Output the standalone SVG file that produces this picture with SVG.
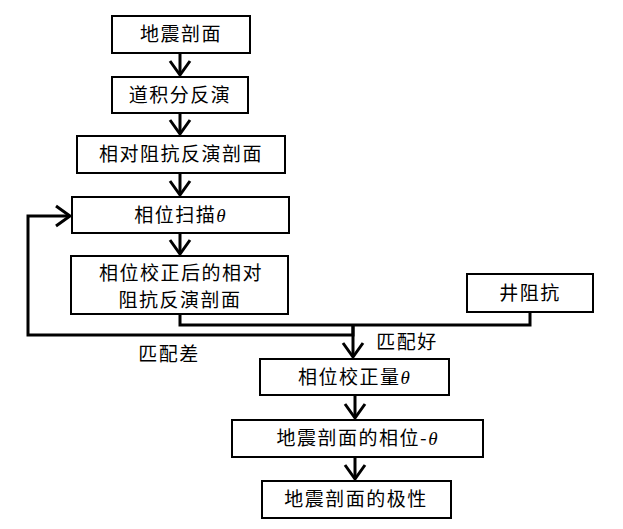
<svg xmlns="http://www.w3.org/2000/svg" width="623" height="529" viewBox="0 0 623 529">
<style>
.box{fill:#fff;stroke:#000;stroke-width:2}
.t{font-family:"Noto Sans CJK SC","Noto Sans",sans-serif;font-size:19px;fill:#000;text-anchor:middle;letter-spacing:1.5px}
.th{font-family:"Liberation Serif",serif;font-style:italic;letter-spacing:0}
.c{fill:none;stroke:#000;stroke-width:3}
</style>
<defs>
<marker id="ah" markerUnits="userSpaceOnUse" markerWidth="30" markerHeight="30" refX="15" refY="15" orient="auto" overflow="visible">
<polyline points="1,5 15,15 1,25" fill="none" stroke="#000" stroke-width="3"/>
</marker>
</defs>
<rect width="623" height="529" fill="#fff"/>
<g id="connectors">
<line class="c" x1="180" y1="53" x2="180" y2="75" marker-end="url(#ah)"/>
<line class="c" x1="180" y1="113" x2="180" y2="134" marker-end="url(#ah)"/>
<line class="c" x1="180" y1="173" x2="180" y2="195" marker-end="url(#ah)"/>
<line class="c" x1="180" y1="233" x2="180" y2="254" marker-end="url(#ah)"/>
<polyline class="c" points="180,314 180,325 530,325 530,312"/>
<polyline class="c" points="353,325 353,335 28,335 28,216 70,216" marker-end="url(#ah)"/>
<line class="c" x1="353" y1="325" x2="353" y2="357" marker-end="url(#ah)"/>
<line class="c" x1="355" y1="395" x2="355" y2="418" marker-end="url(#ah)"/>
<line class="c" x1="355" y1="457" x2="355" y2="479" marker-end="url(#ah)"/>
<text class="t" x="407" y="349">匹配好</text>
<text class="t" x="169" y="361">匹配差</text>
</g>
<g id="n1"><rect class="box" x="112" y="16" width="138" height="37"/><text class="t" x="181" y="41">地震剖面</text></g>
<g id="n2"><rect class="box" x="112" y="77" width="136" height="36"/><text class="t" x="180" y="102">道积分反演</text></g>
<g id="n3"><rect class="box" x="77" y="136" width="208" height="37"/><text class="t" x="181" y="161">相对阻抗反演剖面</text></g>
<g id="n4"><rect class="box" x="72" y="197" width="217" height="36"/><text class="t" x="180" y="222">相位扫描<tspan class="th">θ</tspan></text></g>
<g id="n5"><rect class="box" x="71" y="256" width="217" height="58"/><text class="t" x="181" y="280">相位校正后的相对</text><text class="t" x="180" y="307">阻抗反演剖面</text></g>
<g id="n6"><rect class="box" x="467" y="274" width="126" height="38"/><text class="t" x="530" y="300">井阻抗</text></g>
<g id="n7"><rect class="box" x="260" y="359" width="189" height="36"/><text class="t" x="354" y="384">相位校正量<tspan class="th">θ</tspan></text></g>
<g id="n8"><rect class="box" x="232" y="420" width="251" height="37"/><text class="t" x="357" y="445">地震剖面的相位-<tspan class="th">θ</tspan></text></g>
<g id="n9"><rect class="box" x="262" y="481" width="189" height="37"/><text class="t" x="356" y="506">地震剖面的极性</text></g>
</svg>
